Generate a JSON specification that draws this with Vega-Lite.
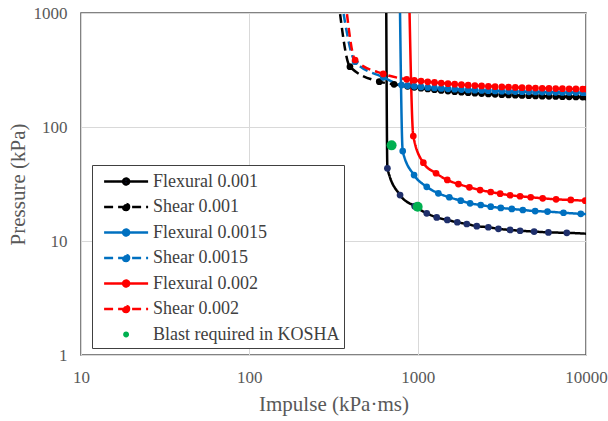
{
  "$schema": "https://vega.github.io/schema/vega-lite/v6.json",
  "width": 505,
  "height": 342,
  "autosize": {"type": "none"},
  "padding": {"left": 81, "top": 13, "right": 22, "bottom": 66},
  "background": "white",
  "config": {
    "view": {"stroke": "#595959", "strokeWidth": 1.5},
    "font": "Liberation Serif",
    "axis": {
      "labelFont": "Liberation Serif", "titleFont": "Liberation Serif",
      "labelFontSize": 17, "titleFontSize": 21,
      "labelColor": "#595959", "titleColor": "#595959", "titleFontWeight": "normal",
      "grid": true, "gridColor": "#D9D9D9", "gridWidth": 1,
      "ticks": false, "domain": false, "labelPadding": 14
    }
  },
  "datasets": {
    "curves": [
      {"series": "Flexural 0.001", "impulse": 650, "pressure": 1500},
      {"series": "Flexural 0.001", "impulse": 661, "pressure": 43.4},
      {"series": "Flexural 0.001", "impulse": 786, "pressure": 25.3},
      {"series": "Flexural 0.001", "impulse": 960, "pressure": 20.2},
      {"series": "Flexural 0.001", "impulse": 1132, "pressure": 17.5},
      {"series": "Flexural 0.001", "impulse": 1298, "pressure": 16.1},
      {"series": "Flexural 0.001", "impulse": 1500, "pressure": 15.3},
      {"series": "Flexural 0.001", "impulse": 1720, "pressure": 14.6},
      {"series": "Flexural 0.001", "impulse": 1958, "pressure": 14.1},
      {"series": "Flexural 0.001", "impulse": 2245, "pressure": 13.5},
      {"series": "Flexural 0.001", "impulse": 2630, "pressure": 13.2},
      {"series": "Flexural 0.001", "impulse": 3018, "pressure": 12.8},
      {"series": "Flexural 0.001", "impulse": 3542, "pressure": 12.5},
      {"series": "Flexural 0.001", "impulse": 4059, "pressure": 12.3},
      {"series": "Flexural 0.001", "impulse": 4917, "pressure": 12.1},
      {"series": "Flexural 0.001", "impulse": 5980, "pressure": 11.9},
      {"series": "Flexural 0.001", "impulse": 7690, "pressure": 11.8},
      {"series": "Flexural 0.001", "impulse": 11000, "pressure": 11.5},

      {"series": "Shear 0.001", "impulse": 338, "pressure": 1300},
      {"series": "Shear 0.001", "impulse": 396, "pressure": 338},
      {"series": "Shear 0.001", "impulse": 592, "pressure": 250},
      {"series": "Shear 0.001", "impulse": 724, "pressure": 237},
      {"series": "Shear 0.001", "impulse": 871, "pressure": 227.2},
      {"series": "Shear 0.001", "impulse": 955, "pressure": 223.0},
      {"series": "Shear 0.001", "impulse": 1047, "pressure": 219.1},
      {"series": "Shear 0.001", "impulse": 1148, "pressure": 215.5},
      {"series": "Shear 0.001", "impulse": 1259, "pressure": 212.3},
      {"series": "Shear 0.001", "impulse": 1380, "pressure": 209.4},
      {"series": "Shear 0.001", "impulse": 1514, "pressure": 206.7},
      {"series": "Shear 0.001", "impulse": 1660, "pressure": 204.2},
      {"series": "Shear 0.001", "impulse": 1820, "pressure": 202.0},
      {"series": "Shear 0.001", "impulse": 1995, "pressure": 199.9},
      {"series": "Shear 0.001", "impulse": 2188, "pressure": 198.1},
      {"series": "Shear 0.001", "impulse": 2399, "pressure": 196.4},
      {"series": "Shear 0.001", "impulse": 2630, "pressure": 194.8},
      {"series": "Shear 0.001", "impulse": 2884, "pressure": 193.4},
      {"series": "Shear 0.001", "impulse": 3162, "pressure": 192.1},
      {"series": "Shear 0.001", "impulse": 3467, "pressure": 191.0},
      {"series": "Shear 0.001", "impulse": 3802, "pressure": 189.9},
      {"series": "Shear 0.001", "impulse": 4169, "pressure": 188.9},
      {"series": "Shear 0.001", "impulse": 4571, "pressure": 188.0},
      {"series": "Shear 0.001", "impulse": 5012, "pressure": 187.2},
      {"series": "Shear 0.001", "impulse": 5495, "pressure": 186.5},
      {"series": "Shear 0.001", "impulse": 6026, "pressure": 185.8},
      {"series": "Shear 0.001", "impulse": 6607, "pressure": 185.2},
      {"series": "Shear 0.001", "impulse": 7244, "pressure": 184.6},
      {"series": "Shear 0.001", "impulse": 7943, "pressure": 184.1},
      {"series": "Shear 0.001", "impulse": 8710, "pressure": 183.6},
      {"series": "Shear 0.001", "impulse": 9550, "pressure": 183.2},
      {"series": "Shear 0.001", "impulse": 10000, "pressure": 183},

      {"series": "Flexural 0.0015", "impulse": 783, "pressure": 1500},
      {"series": "Flexural 0.0015", "impulse": 815, "pressure": 61.5},
      {"series": "Flexural 0.0015", "impulse": 952, "pressure": 37.9},
      {"series": "Flexural 0.0015", "impulse": 1132, "pressure": 29.9},
      {"series": "Flexural 0.0015", "impulse": 1327, "pressure": 26.2},
      {"series": "Flexural 0.0015", "impulse": 1542, "pressure": 24.2},
      {"series": "Flexural 0.0015", "impulse": 1802, "pressure": 22.6},
      {"series": "Flexural 0.0015", "impulse": 2048, "pressure": 21.4},
      {"series": "Flexural 0.0015", "impulse": 2370, "pressure": 20.7},
      {"series": "Flexural 0.0015", "impulse": 2716, "pressure": 20.0},
      {"series": "Flexural 0.0015", "impulse": 3117, "pressure": 19.5},
      {"series": "Flexural 0.0015", "impulse": 3625, "pressure": 19.1},
      {"series": "Flexural 0.0015", "impulse": 4214, "pressure": 18.7},
      {"series": "Flexural 0.0015", "impulse": 4988, "pressure": 18.3},
      {"series": "Flexural 0.0015", "impulse": 5907, "pressure": 18.1},
      {"series": "Flexural 0.0015", "impulse": 7350, "pressure": 17.7},
      {"series": "Flexural 0.0015", "impulse": 9310, "pressure": 17.3},
      {"series": "Flexural 0.0015", "impulse": 11000, "pressure": 17.1},

      {"series": "Shear 0.0015", "impulse": 352, "pressure": 1300},
      {"series": "Shear 0.0015", "impulse": 425, "pressure": 374},
      {"series": "Shear 0.0015", "impulse": 625, "pressure": 273},
      {"series": "Shear 0.0015", "impulse": 803, "pressure": 233},
      {"series": "Shear 0.0015", "impulse": 871, "pressure": 230.2},
      {"series": "Shear 0.0015", "impulse": 955, "pressure": 227.3},
      {"series": "Shear 0.0015", "impulse": 1047, "pressure": 224.6},
      {"series": "Shear 0.0015", "impulse": 1148, "pressure": 222.2},
      {"series": "Shear 0.0015", "impulse": 1259, "pressure": 220.0},
      {"series": "Shear 0.0015", "impulse": 1380, "pressure": 218.0},
      {"series": "Shear 0.0015", "impulse": 1514, "pressure": 216.1},
      {"series": "Shear 0.0015", "impulse": 1660, "pressure": 214.5},
      {"series": "Shear 0.0015", "impulse": 1820, "pressure": 212.9},
      {"series": "Shear 0.0015", "impulse": 1995, "pressure": 211.5},
      {"series": "Shear 0.0015", "impulse": 2188, "pressure": 210.3},
      {"series": "Shear 0.0015", "impulse": 2399, "pressure": 209.1},
      {"series": "Shear 0.0015", "impulse": 2630, "pressure": 208.1},
      {"series": "Shear 0.0015", "impulse": 2884, "pressure": 207.1},
      {"series": "Shear 0.0015", "impulse": 3162, "pressure": 206.2},
      {"series": "Shear 0.0015", "impulse": 3467, "pressure": 205.4},
      {"series": "Shear 0.0015", "impulse": 3802, "pressure": 204.7},
      {"series": "Shear 0.0015", "impulse": 4169, "pressure": 204.0},
      {"series": "Shear 0.0015", "impulse": 4571, "pressure": 203.4},
      {"series": "Shear 0.0015", "impulse": 5012, "pressure": 202.8},
      {"series": "Shear 0.0015", "impulse": 5495, "pressure": 202.3},
      {"series": "Shear 0.0015", "impulse": 6026, "pressure": 201.9},
      {"series": "Shear 0.0015", "impulse": 6607, "pressure": 201.5},
      {"series": "Shear 0.0015", "impulse": 7244, "pressure": 201.1},
      {"series": "Shear 0.0015", "impulse": 7943, "pressure": 200.7},
      {"series": "Shear 0.0015", "impulse": 8710, "pressure": 200.4},
      {"series": "Shear 0.0015", "impulse": 9550, "pressure": 200.1},
      {"series": "Shear 0.0015", "impulse": 10000, "pressure": 200},

      {"series": "Flexural 0.002", "impulse": 890, "pressure": 1500},
      {"series": "Flexural 0.002", "impulse": 942, "pressure": 83.4},
      {"series": "Flexural 0.002", "impulse": 1081, "pressure": 48.6},
      {"series": "Flexural 0.002", "impulse": 1286, "pressure": 39.3},
      {"series": "Flexural 0.002", "impulse": 1500, "pressure": 34.3},
      {"series": "Flexural 0.002", "impulse": 1746, "pressure": 31.6},
      {"series": "Flexural 0.002", "impulse": 2029, "pressure": 29.6},
      {"series": "Flexural 0.002", "impulse": 2349, "pressure": 28.0},
      {"series": "Flexural 0.002", "impulse": 2716, "pressure": 26.9},
      {"series": "Flexural 0.002", "impulse": 3090, "pressure": 26.0},
      {"series": "Flexural 0.002", "impulse": 3542, "pressure": 25.2},
      {"series": "Flexural 0.002", "impulse": 4059, "pressure": 24.7},
      {"series": "Flexural 0.002", "impulse": 4694, "pressure": 24.2},
      {"series": "Flexural 0.002", "impulse": 5530, "pressure": 23.7},
      {"series": "Flexural 0.002", "impulse": 6640, "pressure": 23.2},
      {"series": "Flexural 0.002", "impulse": 8120, "pressure": 22.9},
      {"series": "Flexural 0.002", "impulse": 9890, "pressure": 22.6},
      {"series": "Flexural 0.002", "impulse": 11000, "pressure": 22.5},

      {"series": "Shear 0.002", "impulse": 372, "pressure": 1300},
      {"series": "Shear 0.002", "impulse": 425, "pressure": 387},
      {"series": "Shear 0.002", "impulse": 625, "pressure": 292},
      {"series": "Shear 0.002", "impulse": 861, "pressure": 262},
      {"series": "Shear 0.002", "impulse": 955, "pressure": 257.0},
      {"series": "Shear 0.002", "impulse": 1047, "pressure": 252.9},
      {"series": "Shear 0.002", "impulse": 1148, "pressure": 249.2},
      {"series": "Shear 0.002", "impulse": 1259, "pressure": 245.8},
      {"series": "Shear 0.002", "impulse": 1380, "pressure": 242.7},
      {"series": "Shear 0.002", "impulse": 1514, "pressure": 239.8},
      {"series": "Shear 0.002", "impulse": 1660, "pressure": 237.3},
      {"series": "Shear 0.002", "impulse": 1820, "pressure": 234.9},
      {"series": "Shear 0.002", "impulse": 1995, "pressure": 232.8},
      {"series": "Shear 0.002", "impulse": 2188, "pressure": 230.8},
      {"series": "Shear 0.002", "impulse": 2399, "pressure": 229.1},
      {"series": "Shear 0.002", "impulse": 2630, "pressure": 227.4},
      {"series": "Shear 0.002", "impulse": 2884, "pressure": 226.0},
      {"series": "Shear 0.002", "impulse": 3162, "pressure": 224.6},
      {"series": "Shear 0.002", "impulse": 3467, "pressure": 223.4},
      {"series": "Shear 0.002", "impulse": 3802, "pressure": 222.2},
      {"series": "Shear 0.002", "impulse": 4169, "pressure": 221.2},
      {"series": "Shear 0.002", "impulse": 4571, "pressure": 220.3},
      {"series": "Shear 0.002", "impulse": 5012, "pressure": 219.4},
      {"series": "Shear 0.002", "impulse": 5495, "pressure": 218.7},
      {"series": "Shear 0.002", "impulse": 6026, "pressure": 218.0},
      {"series": "Shear 0.002", "impulse": 6607, "pressure": 217.3},
      {"series": "Shear 0.002", "impulse": 7244, "pressure": 216.7},
      {"series": "Shear 0.002", "impulse": 7943, "pressure": 216.2},
      {"series": "Shear 0.002", "impulse": 8710, "pressure": 215.7},
      {"series": "Shear 0.002", "impulse": 9550, "pressure": 215.2},
      {"series": "Shear 0.002", "impulse": 10000, "pressure": 215}
    ],
    "blast": [
      {"series": "Blast required in KOSHA", "impulse": 700, "pressure": 69},
      {"series": "Blast required in KOSHA", "impulse": 1000, "pressure": 20}
    ]
  },
  "layer": [
    {
      "data": {"name": "curves"},
      "mark": {"type": "line", "clip": true, "strokeWidth": 2.5, "interpolate": "monotone"},
      "encoding": {
        "x": {"field": "impulse", "type": "quantitative",
          "scale": {"type": "log", "domain": [10, 10000], "nice": false},
          "axis": {"values": [10, 100, 1000, 10000], "format": "d", "labelFlush": false, "labelOverlap": false, "title": "Impulse (kPa·ms)", "titlePadding": 8}},
        "y": {"field": "pressure", "type": "quantitative",
          "scale": {"type": "log", "domain": [1, 1000], "nice": false},
          "axis": {"values": [1, 10, 100, 1000], "format": "d", "labelOverlap": false, "title": "Pressure (kPa)", "titlePadding": 5}},
        "stroke": {"field": "series", "type": "nominal",
          "scale": {"domain": ["Flexural 0.001", "Shear 0.001", "Flexural 0.0015", "Shear 0.0015", "Flexural 0.002", "Shear 0.002", "Blast required in KOSHA"],
                    "range": ["#000000", "#000000", "#0070C0", "#0070C0", "#FF0000", "#FF0000", "transparent"]},
          "legend": {"title": null, "orient": "none", "legendX": 11, "legendY": 152,
            "symbolType": "M-0.4,0H3.6M1.87,0A0.27,0.27,0,1,1,1.33,0A0.27,0.27,0,1,1,1.87,0Z",
            "symbolSize": 484, "symbolStrokeWidth": 2.5, "symbolOpacity": 1,
            "labelFont": "Liberation Serif", "labelFontSize": 18, "labelColor": "#404040", "labelOffset": 32, "labelLimit": 0,
            "labelExpr": "datum.label + '  '",
            "strokeColor": "#404040", "fillColor": "white", "padding": 4, "rowPadding": 3.5}},
        "strokeDash": {"field": "series", "type": "nominal",
          "scale": {"domain": ["Flexural 0.001", "Shear 0.001", "Flexural 0.0015", "Shear 0.0015", "Flexural 0.002", "Shear 0.002", "Blast required in KOSHA"],
                    "range": [[1, 0], [9, 5], [1, 0], [9, 5], [1, 0], [9, 5], [1, 0]]},
          "legend": {"title": null, "orient": "none", "legendX": 11, "legendY": 152,
            "symbolType": "M-0.4,0H3.6M1.87,0A0.27,0.27,0,1,1,1.33,0A0.27,0.27,0,1,1,1.87,0Z",
            "symbolSize": 484, "symbolStrokeWidth": 2.5, "symbolOpacity": 1,
            "labelFont": "Liberation Serif", "labelFontSize": 18, "labelColor": "#404040", "labelOffset": 32, "labelLimit": 0,
            "labelExpr": "datum.label + '  '",
            "strokeColor": "#404040", "fillColor": "white", "padding": 4, "rowPadding": 3.5}}
      }
    },
    {
      "data": {"name": "curves"},
      "mark": {"type": "point", "filled": true, "clip": true, "size": 45, "opacity": 1},
      "encoding": {
        "x": {"field": "impulse", "type": "quantitative"},
        "y": {"field": "pressure", "type": "quantitative"},
        "fill": {"field": "series", "type": "nominal",
          "scale": {"domain": ["Flexural 0.001", "Shear 0.001", "Flexural 0.0015", "Shear 0.0015", "Flexural 0.002", "Shear 0.002", "Blast required in KOSHA"],
                    "range": ["#1F2F6B", "#000000", "#0070C0", "#0070C0", "#FF0000", "#FF0000", "#00B050"]},
          "legend": {"title": null, "orient": "none", "legendX": 11, "legendY": 152,
            "symbolType": "M-0.4,0H3.6M1.87,0A0.27,0.27,0,1,1,1.33,0A0.27,0.27,0,1,1,1.87,0Z",
            "symbolSize": 484, "symbolStrokeWidth": 2.5, "symbolOpacity": 1,
            "labelFont": "Liberation Serif", "labelFontSize": 18, "labelColor": "#404040", "labelOffset": 32, "labelLimit": 0,
            "labelExpr": "datum.label + '  '",
            "strokeColor": "#404040", "fillColor": "white", "padding": 4, "rowPadding": 3.5}}
      }
    },
    {
      "data": {"name": "blast"},
      "mark": {"type": "point", "filled": true, "size": 100, "opacity": 1},
      "encoding": {
        "x": {"field": "impulse", "type": "quantitative"},
        "y": {"field": "pressure", "type": "quantitative"},
        "fill": {"field": "series", "type": "nominal"}
      }
    }
  ]
}
